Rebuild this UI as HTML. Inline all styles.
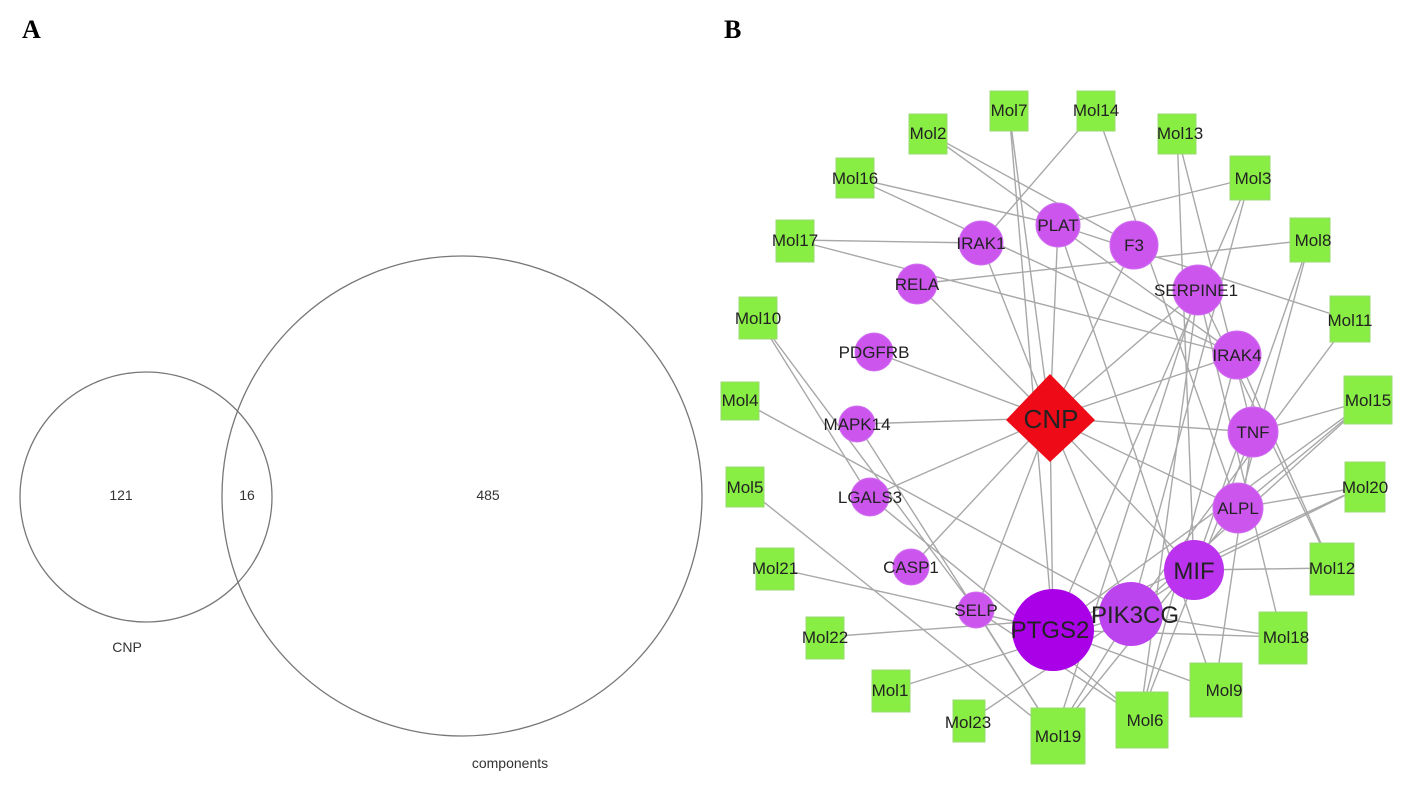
<!DOCTYPE html>
<html><head><meta charset="utf-8"><style>
html,body{margin:0;padding:0;background:#fff;}
svg{display:block;}
</style></head><body>
<svg width="1417" height="792" viewBox="0 0 1417 792" xmlns="http://www.w3.org/2000/svg">
<rect width="1417" height="792" fill="#fff"/>
<text x="22" y="38" font-family="Liberation Serif" font-weight="bold" font-size="26">A</text>
<text x="724" y="38" font-family="Liberation Serif" font-weight="bold" font-size="26">B</text>
<ellipse cx="146" cy="497" rx="126" ry="125" fill="none" stroke="#777" stroke-width="1.3"/>
<circle cx="462" cy="496" r="240" fill="none" stroke="#777" stroke-width="1.3"/>
<g font-family="Liberation Sans" font-size="14" fill="#333" text-anchor="middle">
<text x="121" y="500">121</text><text x="247" y="500">16</text><text x="488" y="500">485</text>
<text x="127" y="652">CNP</text><text x="510" y="768">components</text>
</g>
<g stroke="#a8a8a8" stroke-width="1.4" fill="none">
<!-- CNP edges -->
<line x1="1050" y1="418" x2="981" y2="243"/><line x1="1050" y1="418" x2="1058" y2="225"/>
<line x1="1050" y1="418" x2="1134" y2="245"/><line x1="1050" y1="418" x2="917" y2="284"/>
<line x1="1050" y1="418" x2="1198" y2="290"/><line x1="1050" y1="418" x2="874" y2="352"/>
<line x1="1050" y1="418" x2="1237" y2="355"/><line x1="1050" y1="418" x2="857" y2="424"/>
<line x1="1050" y1="418" x2="1253" y2="432"/><line x1="1050" y1="418" x2="870" y2="497"/>
<line x1="1050" y1="418" x2="1238" y2="508"/><line x1="1050" y1="418" x2="911" y2="567"/>
<line x1="1050" y1="418" x2="1194" y2="570"/><line x1="1050" y1="418" x2="976" y2="610"/>
<line x1="1050" y1="418" x2="1131" y2="614"/><line x1="1050" y1="418" x2="1053" y2="630"/>
<!-- mol edges -->
<line x1="1009" y1="110" x2="1053" y2="630"/><line x1="1009" y1="110" x2="1050" y2="418"/>
<line x1="1096" y1="110" x2="981" y2="243"/><line x1="1096" y1="110" x2="1238" y2="508"/>
<line x1="928" y1="133" x2="1134" y2="245"/><line x1="928" y1="133" x2="1237" y2="355"/>
<line x1="1177" y1="133" x2="1194" y2="570"/><line x1="1177" y1="133" x2="1253" y2="432"/>
<line x1="855" y1="178" x2="1058" y2="225"/><line x1="855" y1="178" x2="1237" y2="355"/>
<line x1="1250" y1="178" x2="1058" y2="225"/><line x1="1250" y1="178" x2="1131" y2="614"/><line x1="1250" y1="178" x2="1053" y2="630"/>
<line x1="795" y1="240" x2="981" y2="243"/><line x1="795" y1="240" x2="1237" y2="355"/>
<line x1="1310" y1="240" x2="917" y2="284"/><line x1="1310" y1="240" x2="1194" y2="570"/><line x1="1310" y1="240" x2="1238" y2="508"/>
<line x1="758" y1="318" x2="976" y2="610"/><line x1="758" y1="318" x2="870" y2="497"/>
<line x1="1350" y1="320" x2="1058" y2="225"/><line x1="1350" y1="320" x2="1131" y2="614"/>
<line x1="740" y1="400" x2="1131" y2="614"/>
<line x1="1368" y1="400" x2="1053" y2="630"/><line x1="1368" y1="400" x2="1238" y2="508"/><line x1="1368" y1="400" x2="1131" y2="614"/><line x1="1368" y1="400" x2="1253" y2="432"/>
<line x1="745" y1="487" x2="1055" y2="735"/>
<line x1="1362" y1="487" x2="1053" y2="630"/><line x1="1362" y1="487" x2="1238" y2="508"/><line x1="1362" y1="487" x2="1194" y2="570"/>
<line x1="775" y1="568" x2="1053" y2="630"/>
<line x1="1332" y1="568" x2="1194" y2="570"/><line x1="1332" y1="568" x2="1237" y2="355"/><line x1="1332" y1="568" x2="1198" y2="290"/>
<line x1="825" y1="637" x2="1131" y2="614"/>
<line x1="1282" y1="637" x2="1053" y2="630"/><line x1="1282" y1="637" x2="1198" y2="290"/><line x1="1282" y1="637" x2="1131" y2="614"/>
<line x1="890" y1="690" x2="1131" y2="614"/>
<line x1="1215" y1="690" x2="1253" y2="432"/><line x1="1215" y1="690" x2="1053" y2="630"/><line x1="1215" y1="690" x2="1058" y2="225"/>
<line x1="968" y1="722" x2="1194" y2="570"/>
<line x1="1055" y1="735" x2="857" y2="424"/><line x1="1055" y1="735" x2="1131" y2="614"/><line x1="1055" y1="735" x2="1238" y2="508"/><line x1="1055" y1="735" x2="1198" y2="290"/>
<line x1="1140" y1="718" x2="1198" y2="290"/><line x1="1140" y1="718" x2="1253" y2="432"/><line x1="1140" y1="718" x2="870" y2="497"/><line x1="1140" y1="718" x2="1237" y2="355"/>
<line x1="976" y1="610" x2="1055" y2="735"/><line x1="976" y1="610" x2="1140" y2="718"/>
</g>
<g fill="#88ee44" stroke="#9ad870" stroke-width="1">
<rect x="990" y="91" width="38" height="40"/><rect x="1077" y="91" width="38" height="40"/>
<rect x="909" y="114" width="38" height="40"/><rect x="1158" y="114" width="38" height="40"/>
<rect x="836" y="158" width="38" height="40"/><rect x="1230" y="156" width="40" height="44"/>
<rect x="776" y="220" width="38" height="42"/><rect x="1290" y="218" width="40" height="44"/>
<rect x="739" y="297" width="38" height="42"/><rect x="1330" y="296" width="40" height="46"/>
<rect x="721" y="382" width="38" height="38"/><rect x="1344" y="376" width="48" height="48"/>
<rect x="726" y="467" width="38" height="40"/><rect x="1345" y="462" width="40" height="50"/>
<rect x="756" y="548" width="38" height="42"/><rect x="1310" y="543" width="44" height="52"/>
<rect x="806" y="617" width="38" height="42"/><rect x="1259" y="612" width="48" height="52"/>
<rect x="872" y="670" width="38" height="42"/><rect x="1190" y="663" width="52" height="54"/>
<rect x="953" y="700" width="32" height="42"/><rect x="1031" y="708" width="54" height="56"/>
<rect x="1116" y="692" width="52" height="56"/>
</g>
<g fill="#cc55ee" stroke="#d070f0" stroke-width="1">
<circle cx="981" cy="243" r="22"/><circle cx="1058" cy="225" r="22"/><circle cx="1134" cy="245" r="24"/>
<circle cx="917" cy="284" r="20"/><circle cx="1198" cy="290" r="25"/><circle cx="874" cy="352" r="19"/>
<circle cx="1237" cy="355" r="24"/><circle cx="857" cy="424" r="18"/><circle cx="1253" cy="432" r="25"/>
<circle cx="870" cy="497" r="19"/><circle cx="1238" cy="508" r="25"/><circle cx="911" cy="567" r="18"/>
<circle cx="976" cy="610" r="18"/>
</g>
<circle cx="1194" cy="570" r="30" fill="#bb33ee"/>
<circle cx="1131" cy="614" r="32" fill="#bb44ee"/>
<circle cx="1053" cy="630" r="41" fill="#aa00e8"/>
<polygon points="1050,374 1095,420 1050,462 1006,420" fill="#ee0a16"/>
<g font-family="Liberation Sans" fill="#222" text-anchor="middle" font-size="17">
<text x="1009" y="116">Mol7</text><text x="1096" y="116">Mol14</text><text x="928" y="139">Mol2</text><text x="1180" y="139">Mol13</text>
<text x="855" y="184">Mol16</text><text x="1253" y="184">Mol3</text><text x="795" y="246">Mol17</text><text x="1313" y="246">Mol8</text>
<text x="758" y="324">Mol10</text><text x="1350" y="326">Mol11</text><text x="740" y="406">Mol4</text><text x="1368" y="406">Mol15</text>
<text x="745" y="493">Mol5</text><text x="1365" y="493">Mol20</text><text x="775" y="574">Mol21</text><text x="1332" y="574">Mol12</text>
<text x="825" y="643">Mol22</text><text x="1286" y="643">Mol18</text><text x="890" y="696">Mol1</text><text x="1224" y="696">Mol9</text>
<text x="968" y="728">Mol23</text><text x="1058" y="742">Mol19</text><text x="1145" y="726">Mol6</text>
<text x="981" y="249">IRAK1</text><text x="1058" y="231">PLAT</text><text x="1134" y="251">F3</text><text x="917" y="290">RELA</text>
<text x="1196" y="296">SERPINE1</text><text x="874" y="358">PDGFRB</text><text x="1237" y="361">IRAK4</text><text x="857" y="430">MAPK14</text>
<text x="1253" y="438">TNF</text><text x="870" y="503">LGALS3</text><text x="1238" y="514">ALPL</text><text x="911" y="573">CASP1</text>
<text x="976" y="616">SELP</text>
<text x="1194" y="579" font-size="24">MIF</text><text x="1135" y="623" font-size="24">PIK3CG</text><text x="1050" y="638" font-size="24">PTGS2</text>
<text x="1051" y="428" font-size="26">CNP</text>
</g>
</svg>
</body></html>
